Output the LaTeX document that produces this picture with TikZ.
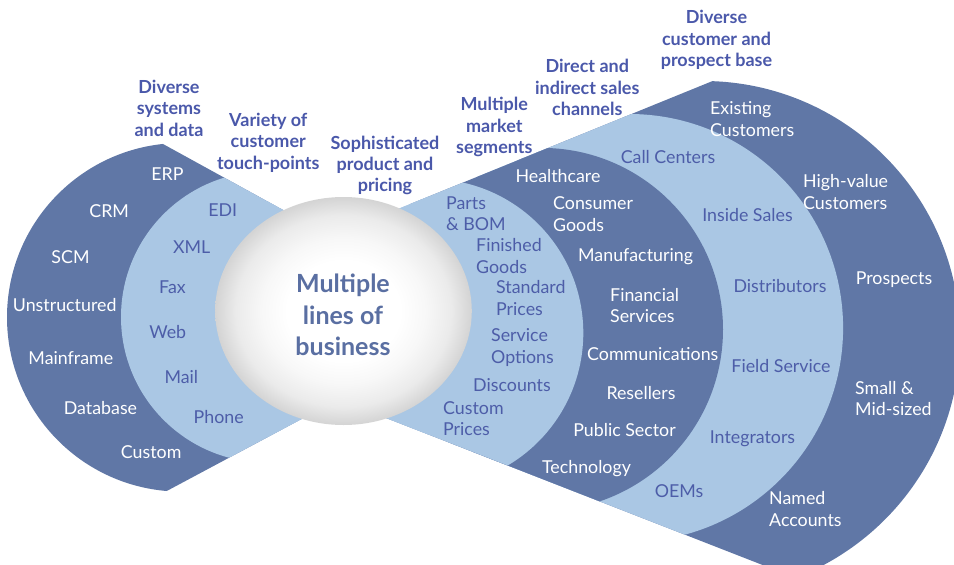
\documentclass[tikz,border=0pt]{standalone}
\usepackage{fontspec}
\setmainfont{Lato}
\definecolor{dkb}{HTML}{6077A6}
\definecolor{ltb}{HTML}{AAC7E4}
\definecolor{hdr}{HTML}{4A58AA}
\definecolor{ltx}{HTML}{4D5DA8}
\definecolor{sph}{HTML}{5A6FA2}
\pgfdeclareradialshading{sphshade}{\pgfpointorigin}{color(0bp)=(white); color(11bp)=(white); color(16bp)=(black!3); color(21bp)=(black!8); color(25bp)=(black!17); color(50bp)=(black!17)}
\tikzset{
  lab/.style={inner sep=0pt, font=\fontsize{17.8}{21.5}\selectfont},
  wt/.style={lab, text=white},
  bt/.style={lab, text=ltx},
  hd/.style={inner sep=0pt, font=\bfseries\fontsize{18}{21.3}\selectfont, text=hdr, align=center},
  lw/.style={anchor=west, align=left},
}
\begin{document}
\begin{tikzpicture}[x=1pt,y=-1pt]
\useasboundingbox (0,0) rectangle (954,565);
% left fan
\begin{scope}
  \clip (485,321) -- (-50,26.9) -- (-50,606.8) -- cycle;
  \fill[dkb] (181.3,317.3) circle[radius=174.3];
  \fill[ltb] (266.6,317) circle[radius=145.6];
  \fill[ltb] (266.6,0) rectangle (500,565);
\end{scope}
% right fan
\begin{scope}
  \clip (130,318) -- (1000,-35.9) -- (1000,657.7) -- cycle;
  \fill[dkb] (703,338) circle[radius=257];
  \fill[ltb] (629.1,328) circle[radius=214];
  \fill[dkb] (541.5,329.4) circle[radius=181.5];
  \fill[ltb] (429.3,332.9) circle[radius=154];
  \fill[ltb] (215,0) rectangle (429.3,565);
\end{scope}
% sphere
\shade[shading=sphshade] (343.5,311) ellipse[x radius=128.3, y radius=114];
\node[inner sep=0pt, align=center, text=sph, font=\bfseries\fontsize{25}{31.5}\selectfont] (mlb) at (343,318) {\strut Multiple\\\strut lines of\\\strut business};

% headers
\node[hd] (h1) at (169,110.5) {\strut Diverse\\\strut systems\\\strut and data};
\node[hd] (h2) at (268.3,143.7) {\strut Variety of\\\strut customer\\\strut touch-points};
\node[hd] (h3) at (385,166.3) {\strut Sophisticated\\\strut product and\\\strut pricing};
\node[hd] (h4) at (494.3,128) {\strut Multiple\\\strut market\\\strut segments};
\node[hd] (h5) at (587.3,90) {\strut Direct and\\\strut indirect sales\\\strut channels};
\node[hd] (h6) at (716.5,41) {\strut Diverse\\\strut customer and\\\strut prospect base};

% left dark
\node[wt] (erp) at (167.5,176) {\strut ERP};
\node[wt] (crm) at (109.2,212.7) {\strut CRM};
\node[wt] (scm) at (70.5,259.3) {\strut SCM};
\node[wt] (uns) at (64.7,307) {\strut Unstructured};
\node[wt] (mfr) at (70.8,360.3) {\strut Mainframe};
\node[wt] (dbs) at (100.5,410.3) {\strut Database};
\node[wt] (cus) at (151.2,454.3) {\strut Custom};
% left light
\node[bt] (edi) at (222.8,212) {\strut EDI};
\node[bt] (xml) at (191.7,248.7) {\strut XML};
\node[bt] (fax) at (172.5,288.7) {\strut Fax};
\node[bt] (web) at (167.8,334.3) {\strut Web};
\node[bt] (mail) at (181.3,378.7) {\strut Mail};
\node[bt] (phn) at (218.7,418.7) {\strut Phone};

% right light A
\node[bt,lw] (pb) at (446,215.5) {\strut Parts\\\strut \& BOM};
\node[bt,lw] (fg) at (476,258) {\strut Finished\\\strut Goods};
\node[bt,lw] (sp) at (496,300) {\strut Standard\\\strut Prices};
\node[bt,lw] (so) at (491,348) {\strut Service\\\strut Options};
\node[bt,lw] (dc) at (473,387) {\strut Discounts};
\node[bt,lw] (cp) at (443,420.5) {\strut Custom\\\strut Prices};

% right dark B
\node[wt] (hc) at (558,178) {\strut Healthcare};
\node[wt,lw] (cg) at (553,216) {\strut Consumer\\\strut Goods};
\node[wt,lw] (mf) at (578,257) {\strut Manufacturing};
\node[wt,lw] (fs) at (610,307.5) {\strut Financial\\\strut Services};
\node[wt,lw] (cm) at (587,356) {\strut Communications};
\node[wt] (rs) at (641,395) {\strut Resellers};
\node[wt] (ps) at (624.5,432) {\strut Public Sector};
\node[wt] (tc) at (586.5,469) {\strut Technology};

% right light C
\node[bt] (cc) at (668,159) {\strut Call Centers};
\node[bt] (is) at (747.5,217) {\strut Inside Sales};
\node[bt] (ds) at (780,288) {\strut Distributors};
\node[bt] (fsv) at (781,368) {\strut Field Service};
\node[bt] (ig) at (752.5,439) {\strut Integrators};
\node[bt] (oem) at (679,493) {\strut OEMs};

% right outer dark D
\node[wt,lw] (ec) at (710,121) {\strut Existing\\\strut Customers};
\node[wt,lw] (hv) at (803,194) {\strut High-value\\\strut Customers};
\node[wt] (pr) at (894,280) {\strut Prospects};
\node[wt,lw] (sm) at (855,400.5) {\strut Small \&\\\strut Mid-sized};
\node[wt,lw] (na) at (769,511) {\strut Named\\\strut Accounts};
\end{tikzpicture}
\end{document}
